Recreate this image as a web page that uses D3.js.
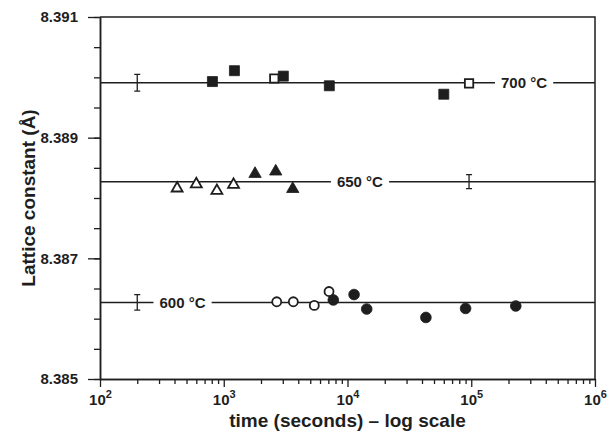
<!DOCTYPE html>
<html>
<head>
<meta charset="utf-8">
<script src="https://cdn.jsdelivr.net/npm/d3@7"></script>
<style>
  body { margin: 0; background: #fff; }
  svg { font-family: "Liberation Sans", Arial, sans-serif; font-weight: bold; }
</style>
</head>
<body>
<div id="chart"></div>
<script>
// data
var t700Filled = [810, 1220, 3030, 7130, 60000];
var a700Filled = [8.38993, 8.39011, 8.39002, 8.38986, 8.38972];
var t700Open = [2560, 96000];
var a700Open = [8.38998, 8.38990];

var t650Open = [420, 600, 880, 1200];
var a650Open = [8.38816, 8.38823, 8.38812, 8.38822];
var t650Filled = [1790, 2630, 3610];
var a650Filled = [8.38840, 8.38844, 8.38815];

var t600Open = [2680, 3650, 5390, 7090];
var a600Open = [8.38628, 8.38628, 8.38622, 8.38645];
var t600Filled = [7680, 11300, 14300, 43000, 90000, 229000];
var a600Filled = [8.38631, 8.38640, 8.38616, 8.38602, 8.38617, 8.38621];

// fitted levels, their labels and the error bars
var tempLabels = ["700 °C", "650 °C", "600 °C"];
var levels = [8.38991, 8.38827, 8.38627];
var labelTimes = [267000, 12600, 464];
var errTimes = [200, 96000, 200];
var errHalf = [0.00014, 0.000116, 0.00013];

var yMajor = [8.385, 8.387, 8.389, 8.391];
var yMinor = d3.range(0, 13).map(function(i) { return 8.385 + i * 0.0005; });
var xMajor = [1e2, 1e3, 1e4, 1e5, 1e6];
var xMinor = [];
[1e2, 1e3, 1e4, 1e5].forEach(function(p) {
    for (var k = 2; k <= 9; k++) xMinor.push(k * p);
});

function drawChart() {
    var svgWidth = 610, svgHeight = 433;
    var margin = { left: 100, right: 595, top: 17, bottom: 379 };
    var ink = "#1e1e1e";

    var svg = d3.select("#chart").append("svg")
        .attr("width", svgWidth)
        .attr("height", svgHeight);

    var x = d3.scaleLog().domain([1e2, 1e6]).range([margin.left, margin.right]);
    var y = d3.scaleLinear().domain([8.385, 8.391]).range([margin.bottom, margin.top]);

    // frame (top and right)
    svg.append("path")
        .attr("d", "M" + margin.left + "," + margin.top + "H" + margin.right + "V" + margin.bottom)
        .attr("fill", "none")
        .attr("stroke", ink)
        .attr("stroke-width", 1.5);

    // x axis
    var gxMinor = svg.append("g")
        .attr("transform", "translate(0," + margin.bottom + ")")
        .call(d3.axisBottom(x).tickValues(xMinor).tickSize(5).tickSizeOuter(0).tickFormat(""));
    var gx = svg.append("g")
        .attr("transform", "translate(0," + margin.bottom + ")")
        .call(d3.axisBottom(x).tickValues(xMajor).tickSize(8).tickSizeOuter(0).tickFormat(""));

    gx.selectAll(".tick").append("text")
        .attr("y", 26)
        .attr("fill", ink)
        .attr("text-anchor", "middle")
        .style("font-size", "15px")
        .each(function(d) {
            var t = d3.select(this);
            t.append("tspan").text("10");
            t.append("tspan")
                .attr("dy", -7)
                .style("font-size", "11px")
                .text(Math.round(Math.log10(d)));
        });

    // y axis
    var gyMinor = svg.append("g")
        .attr("transform", "translate(" + margin.left + ",0)")
        .call(d3.axisLeft(y).tickValues(yMinor).tickSize(6).tickSizeOuter(0).tickFormat(""));
    var gy = svg.append("g")
        .attr("transform", "translate(" + margin.left + ",0)")
        .call(d3.axisLeft(y).tickValues(yMajor).tickSize(12).tickSizeOuter(0).tickPadding(10)
            .tickFormat(d3.format(".3f")));

    gy.selectAll("text").style("font-size", "15px").attr("fill", ink);
    [gx, gxMinor, gy, gyMinor].forEach(function(g) {
        g.selectAll("line").attr("stroke", ink).attr("stroke-width", 1.3);
        g.select(".domain").attr("stroke", ink).attr("stroke-width", 1.5);
    });

    // axis titles
    svg.append("text")
        .attr("x", (margin.left + margin.right) / 2)
        .attr("y", 427)
        .attr("text-anchor", "middle")
        .attr("fill", ink)
        .style("font-size", "19px")
        .text("time (seconds) \u2013 log scale");

    svg.append("text")
        .attr("transform", "translate(35," + (margin.top + margin.bottom) / 2 + ") rotate(-90)")
        .attr("text-anchor", "middle")
        .attr("fill", ink)
        .style("font-size", "19px")
        .text("Lattice constant (\u00C5)");

    // level lines with their labels sitting in a gap
    var plot = svg.append("g");
    levels.forEach(function(v, i) {
        plot.append("line")
            .attr("x1", margin.left).attr("x2", margin.right)
            .attr("y1", y(v)).attr("y2", y(v))
            .attr("stroke", ink)
            .attr("stroke-width", 1.5);

        var lbl = plot.append("text")
            .attr("x", x(labelTimes[i]))
            .attr("y", y(v) + 5.5)
            .attr("text-anchor", "middle")
            .attr("fill", ink)
            .style("font-size", "15px")
            .text(tempLabels[i]);
        var bb = lbl.node().getBBox();
        plot.insert("rect", function() { return lbl.node(); })
            .attr("x", bb.x - 6).attr("y", bb.y)
            .attr("width", bb.width + 12).attr("height", bb.height)
            .attr("fill", "#fff");

        // error bar
        var ex = x(errTimes[i]);
        var e0 = y(v - errHalf[i]), e1 = y(v + errHalf[i]);
        plot.append("path")
            .attr("d", "M" + ex + "," + e0 + "V" + e1 +
                "M" + (ex - 3) + "," + e0 + "H" + (ex + 3) +
                "M" + (ex - 3) + "," + e1 + "H" + (ex + 3))
            .attr("fill", "none")
            .attr("stroke", ink)
            .attr("stroke-width", 1.3);
    });

    // markers
    function drawPoints(times, vals, shape, size, filled) {
        plot.selectAll(null)
            .data(times.map(function(t, i) { return [t, vals[i]]; }))
            .enter()
            .append("path")
            .attr("transform", function(d) { return "translate(" + x(d[0]) + "," + y(d[1]) + ")"; })
            .attr("d", d3.symbol(shape, size))
            .attr("fill", filled ? ink : "#fff")
            .attr("stroke", ink)
            .attr("stroke-width", filled ? 0.8 : 1.8);
    }

    drawPoints(t700Filled, a700Filled, d3.symbolSquare, 100, true);
    drawPoints(t700Open, a700Open, d3.symbolSquare, 70, false);
    drawPoints(t650Open, a650Open, d3.symbolTriangle, 52, false);
    drawPoints(t650Filled, a650Filled, d3.symbolTriangle, 66, true);
    drawPoints(t600Open, a600Open, d3.symbolCircle, 64, false);
    drawPoints(t600Filled, a600Filled, d3.symbolCircle, 90, true);
}

drawChart();
</script>
</body>
</html>
